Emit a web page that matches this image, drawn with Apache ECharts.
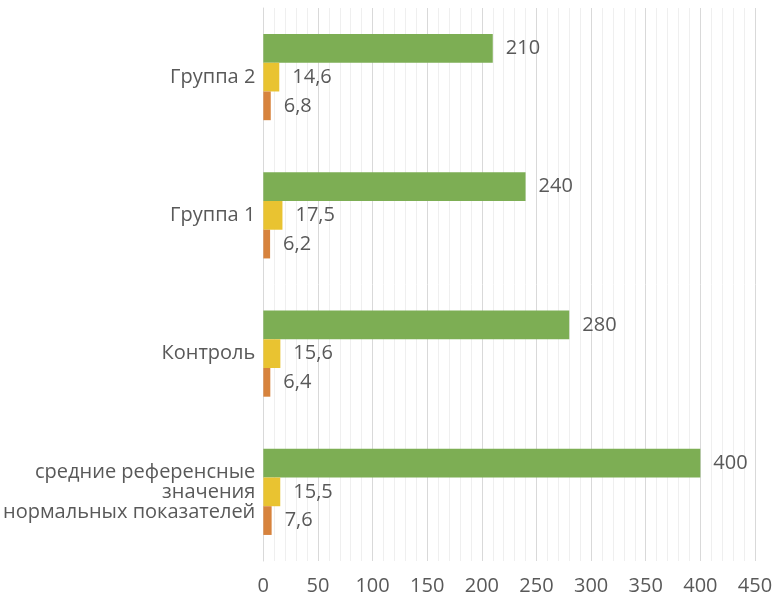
<!DOCTYPE html>
<html>
<head>
<meta charset="utf-8">
<script src="https://cdn.jsdelivr.net/npm/echarts@6/dist/echarts.min.js"></script>
<style>
  html, body { margin: 0; padding: 0; background: #fff; }
  #chart { width: 784px; height: 598px; }
</style>
</head>
<body>
<div id="chart"></div>
<script>
// категории снизу вверх
var categories = ['средние референсные\nзначения\nнормальных показателей', 'Контроль', 'Группа 1', 'Группа 2'];
var greenValues = [400, 280, 240, 210];
var yellowValues = [15.5, 15.6, 17.5, 14.6];
var orangeValues = [7.6, 6.4, 6.2, 6.8];
var xTicks = { min: 0, max: 450, interval: 50 };

var chart = echarts.init(document.getElementById('chart'));
var textColor = '#595959';
var font = '"Open Sans", sans-serif';

function labelOpt() {
    return {
        show: true,
        position: 'right',
        distance: 13,
        color: textColor,
        fontFamily: font,
        fontSize: 20,
        formatter: function (p) {
            return String(p.value).replace('.', ',');
        }
    };
}

var option = {
    backgroundColor: '#fff',
    animation: false,
    grid: { left: 262, right: 29, top: 8, bottom: 37, containLabel: false },
    xAxis: {
        type: 'value',
        min: xTicks.min,
        max: xTicks.max,
        interval: xTicks.interval,
        axisLine: { show: false },
        axisTick: { show: false },
        axisLabel: { color: textColor, fontFamily: font, fontSize: 20, margin: 15 },
        splitLine: { show: true, lineStyle: { color: '#d9d9d9', width: 1 } },
        minorTick: { show: false, splitNumber: 5 },
        minorSplitLine: { show: true, lineStyle: { color: '#efefef', width: 1 } }
    },
    yAxis: {
        type: 'category',
        data: categories,
        axisLine: { show: true, lineStyle: { color: '#d9d9d9' } },
        axisTick: { show: false },
        axisLabel: {
            color: textColor, fontFamily: font, fontSize: 20,
            margin: 8, lineHeight: 20, align: 'right'
        }
    },
    series: [
        {
            name: 'green', type: 'bar', data: greenValues,
            itemStyle: { color: '#7DAE54' },
            barGap: '0%', barCategoryGap: '37.7%',
            label: labelOpt()
        },
        {
            name: 'yellow', type: 'bar', data: yellowValues,
            itemStyle: { color: '#E9C331' },
            barGap: '0%', barCategoryGap: '37.7%',
            label: labelOpt()
        },
        {
            name: 'orange', type: 'bar', data: orangeValues,
            itemStyle: { color: '#D7833D' },
            barGap: '0%', barCategoryGap: '37.7%',
            label: labelOpt()
        }
    ]
};

chart.setOption(option);
</script>
</body>
</html>
